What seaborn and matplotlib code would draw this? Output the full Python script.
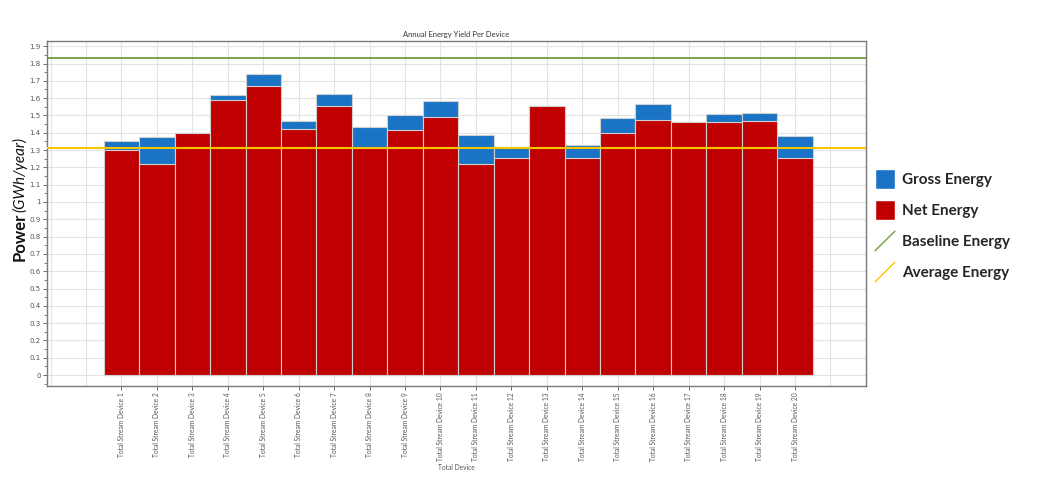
import numpy as np
import pandas as pd
import matplotlib
matplotlib.use("Agg")
import matplotlib.pyplot as plt
import seaborn as sns
from matplotlib.patches import Patch
from matplotlib.lines import Line2D
from matplotlib.legend_handler import HandlerBase
from matplotlib.ticker import AutoMinorLocator

# data
devices = [f"Total Stream Device {i}" for i in range(1, 21)]
gross = [1.353, 1.376, 1.397, 1.616, 1.737, 1.468, 1.622, 1.433, 1.505, 1.585,
         1.389, 1.320, 1.554, 1.332, 1.483, 1.568, 1.464, 1.507, 1.514, 1.380]
net = [1.299, 1.222, 1.397, 1.587, 1.668, 1.424, 1.554, 1.311, 1.416, 1.493,
       1.222, 1.253, 1.554, 1.253, 1.399, 1.474, 1.464, 1.462, 1.468, 1.253]
baseline = 1.83
average = 1.31
yticks = [round(0.1 * i, 1) for i in range(20)]

df = pd.DataFrame({"device": devices, "gross": gross, "net": net})

blue = "#1a73c4"
red = "#c00000"
green = "#6f9e3c"
yellow = "#f7c600"

sns.set_theme(style="white")
plt.rcParams["font.family"] = ["Lato", "DejaVu Sans"]

fig = plt.figure(figsize=(10.42, 4.91), dpi=100)
ax = fig.add_axes([0.0451, 0.2138, 0.7859, 0.7027])

sns.barplot(data=df, x="device", y="gross", color=blue, saturation=1, width=1.0,
            edgecolor="#d0d0d0", linewidth=0.8, ax=ax, zorder=2)
sns.barplot(data=df, x="device", y="net", color=red, saturation=1, width=1.0,
            edgecolor="#d0d0d0", linewidth=0.8, ax=ax, zorder=3)

ax.axhline(baseline, color=green, lw=1.3, zorder=4)
ax.axhline(average, color=yellow, lw=1.5, zorder=4)

ax.set_xlim(-2.1, 21.0)
ax.set_ylim(-0.063, 1.93)

ax.set_yticks(yticks)
ax.set_yticklabels([f"{v:g}" for v in yticks], fontsize=5, color="#555555",
                   family="DejaVu Sans")
ax.yaxis.set_minor_locator(AutoMinorLocator(2))
ax.set_xticks(range(len(devices)))
ax.set_xticklabels(devices, rotation=90, fontsize=4.8, color="#555555")
ax.set_xticks([-2, -1, 20], minor=True)

ax.tick_params(axis="y", which="major", length=3, width=0.6, color="#555555", direction="out", left=True, pad=1.5)
ax.tick_params(axis="y", which="minor", length=2, width=0.5, color="#555555", left=True)
ax.tick_params(axis="x", which="major", length=3, width=0.6, color="#555555", bottom=True, pad=1.5)
ax.tick_params(axis="x", which="minor", length=0)

ax.xaxis.grid(True, which="both", color="#e3e3e3", lw=0.8, zorder=0)
ax.yaxis.grid(True, which="major", color="#e3e3e3", lw=0.8, zorder=0)
ax.set_axisbelow(True)

for s in ax.spines.values():
    s.set_visible(True)
    s.set_color("#7a7a7a")
    s.set_linewidth(1.0)

ax.set_title("Annual Energy Yield Per Device", fontsize=5.5, color="#333333", pad=3)
ax.set_xlabel("Total Device", fontsize=4.8, color="#555555", labelpad=2)
ax.set_ylabel("")

fig.text(0.019, 1 - 261 / 491, "Power", rotation=90, fontsize=12, fontweight="bold",
         ha="center", va="bottom", color="#111111")
fig.text(0.019, 1 - 212 / 491, "(GWh/year)", rotation=90, fontsize=11, style="italic",
         ha="center", va="bottom", color="#111111")


class DiagHandler(HandlerBase):
    def create_artists(self, legend, orig_handle, xdescent, ydescent, width, height, fontsize, trans):
        ln = Line2D([-xdescent, width - xdescent], [-ydescent, height - ydescent],
                    color=orig_handle.get_color(), lw=1.0, transform=trans)
        return [ln]


handles = [Patch(facecolor=blue), Patch(facecolor=red),
           Line2D([], [], color=green), Line2D([], [], color=yellow)]
labels = ["Gross Energy", "Net Energy", "Baseline Energy", "Average Energy"]
fig.legend(handles, labels, loc="upper left", bbox_to_anchor=(875 / 1042, 1 - 169 / 491),
           frameon=False, borderpad=0, borderaxespad=0,
           handlelength=1.3, handleheight=1.6, handletextpad=0.5, labelspacing=0.75,
           handler_map={Line2D: DiagHandler()}, prop={"weight": "bold", "size": 11})

fig.savefig("out.png", dpi=100, facecolor="white")
